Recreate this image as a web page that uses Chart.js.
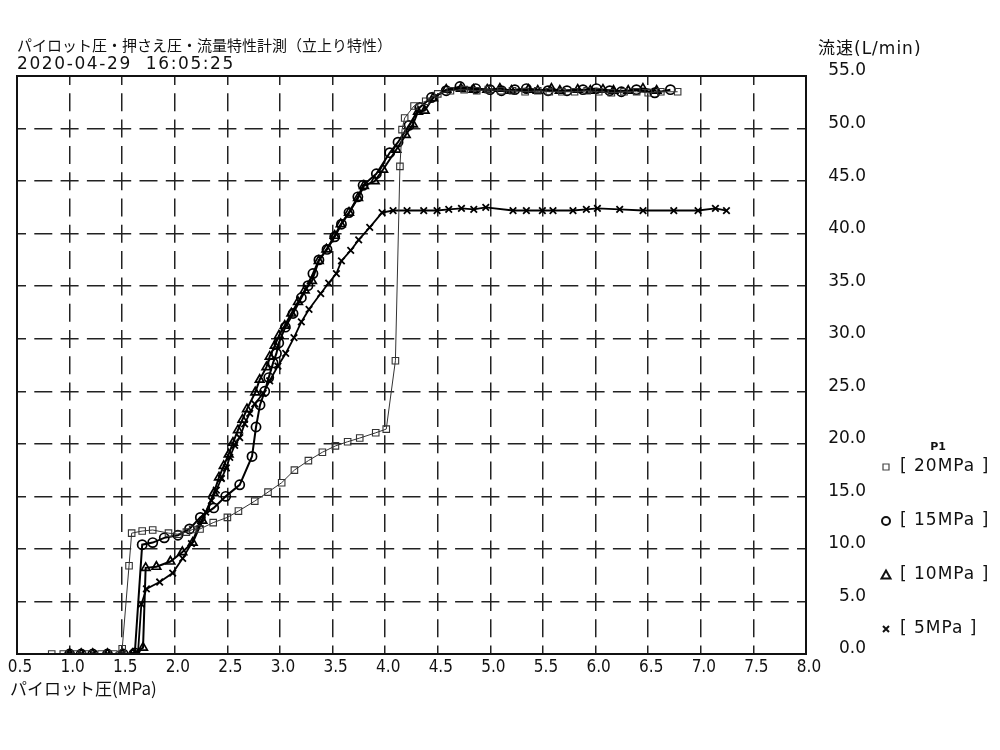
<!DOCTYPE html>
<html><head><meta charset="utf-8">
<script src="https://cdn.jsdelivr.net/npm/chart.js@4.4.1/dist/chart.umd.min.js"></script>
<style>
html,body{margin:0;padding:0;background:#fff;}
#wrap{position:relative;width:1000px;height:750px;overflow:hidden;}
canvas{position:absolute;left:0;top:0;}
.t{position:absolute;white-space:nowrap;color:#111;line-height:1;}
</style></head><body>
<div id="wrap">
<canvas id="c" width="1000" height="750"></canvas>
<div class="t" style="left:17px;top:37px;font-size:15px;font-family:'Noto Sans CJK JP';">パイロット圧・押さえ圧・流量特性計測（立上り特性）</div>
<div class="t" style="left:17px;top:55px;font-size:17px;font-family:'DejaVu Sans';letter-spacing:1.6px;">2020-04-29&nbsp;&nbsp;16:05:25</div>
<div class="t" style="left:818px;top:40px;font-size:17px;font-family:'DejaVu Sans','Noto Sans CJK JP';letter-spacing:1px;">流速(L/min)</div>
<div class="t" style="left:10px;top:679px;font-size:17px;font-family:'Noto Sans CJK JP';">パイロット圧(MPa)</div>
</div>
<script>
// ---- data ----
const xTickStep = 0.5, xMin = 0.5, xMax = 8.0;
const yTickStep = 5, yMin = 0, yMax = 55;
const seriesLabels = ['20MPa', '15MPa', '10MPa', '5MPa'];
const legendTitle = 'P1';

const p20X = [0.83,0.94,1.06,1.18,1.30,1.42,1.50,1.565,1.59,1.69,1.79,1.94,2.03,2.11,2.17,2.24,2.365,2.50,2.605,2.76,2.886,3.016,3.137,3.27,3.403,3.527,3.643,3.758,3.91,4.01,4.097,4.14,4.16,4.185,4.274,4.385,4.50,4.62,4.75,4.87,4.98,5.10,5.21,5.33,5.45,5.56,5.68,5.80,5.92,6.03,6.15,6.27,6.39,6.50,6.62,6.78];
const p20Y = [0,0,0,0,0,0,0.5,8.4,11.5,11.7,11.8,11.5,11.4,11.6,11.85,11.9,12.5,13.0,13.6,14.55,15.4,16.3,17.5,18.4,19.2,19.8,20.2,20.55,21.05,21.4,27.9,46.4,49.9,51.0,52.15,52.6,53.3,53.6,53.7,53.6,53.7,53.6,53.6,53.5,53.6,53.5,53.5,53.5,53.6,53.5,53.4,53.5,53.5,53.4,53.5,53.5];

const p15X = [1.0,1.11,1.22,1.36,1.51,1.62,1.69,1.79,1.90,2.03,2.14,2.243,2.37,2.484,2.617,2.734,2.772,2.81,2.855,2.893,2.934,2.966,2.988,3.051,3.124,3.203,3.266,3.313,3.37,3.447,3.52,3.584,3.656,3.74,3.79,3.916,4.043,4.122,4.226,4.328,4.44,4.58,4.71,4.86,4.996,5.105,5.232,5.342,5.548,5.728,5.88,6.008,6.134,6.245,6.388,6.562,6.711];
const p15Y = [0,0,0,0,0,0.1,10.4,10.6,11.05,11.3,11.9,13.0,13.9,15.0,16.1,18.8,21.6,23.7,25.0,26.3,27.7,28.6,29.6,31.1,32.4,33.9,35.05,36.2,37.5,38.5,39.7,40.9,42.0,43.5,44.6,45.7,47.7,48.7,50.3,52.0,52.95,53.6,54.0,53.8,53.7,53.6,53.7,53.8,53.6,53.6,53.7,53.8,53.6,53.5,53.7,53.4,53.7];

const p10X = [1.0,1.11,1.22,1.36,1.50,1.60,1.698,1.723,1.825,1.958,2.072,2.17,2.262,2.37,2.42,2.465,2.512,2.553,2.60,2.643,2.686,2.765,2.807,2.871,2.902,2.95,2.99,3.045,3.108,3.171,3.235,3.304,3.368,3.441,3.52,3.577,3.656,3.742,3.798,3.90,3.98,4.106,4.195,4.264,4.312,4.375,4.455,4.58,4.72,4.84,4.97,5.09,5.20,5.36,5.45,5.58,5.66,5.83,5.95,6.07,6.17,6.31,6.45,6.58];
const p10Y = [0,0,0,0,0,0,0.6,8.2,8.3,8.8,9.7,10.6,12.7,15.3,16.8,17.9,19.0,20.1,21.3,22.3,23.3,24.9,26.1,27.3,28.3,29.35,30.3,31.25,32.4,33.5,34.6,35.5,37.4,38.5,39.8,40.9,42.0,43.4,44.55,45.0,46.1,48.0,49.4,50.4,51.6,51.7,52.9,53.7,53.8,53.7,53.7,53.8,53.6,53.7,53.6,53.8,53.6,53.7,53.6,53.7,53.6,53.6,53.8,53.6];

const p5X = [1.0,1.11,1.22,1.36,1.50,1.60,1.65,1.682,1.73,1.856,1.98,2.075,2.158,2.237,2.294,2.348,2.395,2.443,2.49,2.522,2.569,2.617,2.664,2.712,2.76,2.84,2.902,2.98,3.054,3.133,3.203,3.276,3.387,3.463,3.536,3.584,3.672,3.748,3.853,3.97,4.075,4.208,4.366,4.493,4.604,4.725,4.842,4.956,5.215,5.342,5.494,5.595,5.785,5.912,6.017,6.229,6.451,6.743,6.974,7.139,7.244];
const p5Y = [0,0,0,0,0,0,0.1,4.75,6.2,6.85,7.7,9.1,10.5,12.4,13.5,14.6,15.6,16.7,17.7,18.7,19.85,20.6,21.9,22.9,23.8,24.8,26.0,27.4,28.6,30.1,31.6,32.8,34.3,35.3,36.2,37.4,38.4,39.4,40.6,42.0,42.2,42.2,42.2,42.2,42.3,42.4,42.3,42.5,42.2,42.2,42.2,42.2,42.2,42.3,42.4,42.3,42.2,42.2,42.2,42.4,42.2];

const pts = (xs, ys) => xs.map((x, i) => ({x, y: ys[i]}));

const styles = [
  {pointStyle:'rect', pointRadius:4.6, pointBorderWidth:1.1, borderWidth:1, color:'#333'},
  {pointStyle:'circle', pointRadius:4.6, pointBorderWidth:1.7, borderWidth:2, color:'#000'},
  {pointStyle:'triangle', pointRadius:5, pointBorderWidth:1.7, borderWidth:2, color:'#000'},
  {pointStyle:'crossRot', pointRadius:4.6, pointBorderWidth:1.8, borderWidth:1.8, color:'#000'}
];
const seriesData = [pts(p20X,p20Y), pts(p15X,p15Y), pts(p10X,p10Y), pts(p5X,p5Y)];

const datasets = seriesData.map((d, i) => ({
  label: seriesLabels[i],
  data: d,
  showLine: true,
  tension: 0,
  borderColor: styles[i].color,
  borderWidth: styles[i].borderWidth,
  pointStyle: styles[i].pointStyle,
  pointRadius: styles[i].pointRadius,
  pointBorderWidth: styles[i].pointBorderWidth,
  pointBorderColor: styles[i].color,
  pointBackgroundColor: 'rgba(0,0,0,0)'
}));

const frameLegendPlugin = {
  id: 'frameLegend',
  afterDraw(chart) {
    const ctx = chart.ctx, a = chart.chartArea;
    ctx.save();
    ctx.strokeStyle = '#111';
    ctx.lineWidth = 2;
    ctx.setLineDash([]);
    ctx.strokeRect(a.left, a.top, a.right - a.left, a.bottom - a.top);
    // legend
    ctx.fillStyle = '#111';
    ctx.textAlign = 'center';
    ctx.textBaseline = 'middle';
    ctx.font = 'bold 11px "DejaVu Sans"';
    ctx.fillText(legendTitle, 938, 447);
    const ys = [467, 521, 575, 629];
    const mx = 886;
    ctx.textAlign = 'left';
    ctx.font = '17px "DejaVu Sans"';
    try { ctx.letterSpacing = '1px'; } catch(e) {}
    seriesLabels.forEach((lab, i) => {
      const y = ys[i];
      ctx.strokeStyle = '#111';
      ctx.beginPath();
      if (i === 0) { ctx.lineWidth = 1.2; ctx.strokeStyle = '#444'; ctx.rect(mx - 3, y - 3, 6, 6); }
      else if (i === 1) { ctx.lineWidth = 2; ctx.arc(mx, y, 4, 0, Math.PI * 2); }
      else if (i === 2) { ctx.lineWidth = 2; ctx.moveTo(mx, y - 4.5); ctx.lineTo(mx + 4.5, y + 3.5); ctx.lineTo(mx - 4.5, y + 3.5); ctx.closePath(); }
      else { ctx.lineWidth = 2; ctx.moveTo(mx - 3, y - 3); ctx.lineTo(mx + 3, y + 3); ctx.moveTo(mx + 3, y - 3); ctx.lineTo(mx - 3, y + 3); }
      ctx.stroke();
      ctx.fillText('[ ' + lab + ' ]', 900, y);
    });
    ctx.restore();
  }
};

new Chart(document.getElementById('c'), {
  type: 'scatter',
  data: { datasets },
  options: {
    responsive: false,
    animation: false,
    devicePixelRatio: 1,
    layout: { padding: { left: 17, top: 76, right: 134, bottom: 66 } },
    plugins: { legend: { display: false }, tooltip: { enabled: false } },
    scales: {
      x: {
        type: 'linear', position: 'bottom', min: xMin, max: xMax,
        afterFit: s => { s.height = 30; },
        ticks: { stepSize: xTickStep, padding: 3, labelOffset: 3, color: '#111',
          font: { family: '"Liberation Sans Narrow","DejaVu Sans Condensed","Roboto Condensed",sans-serif', size: 17 },
          callback: v => v.toFixed(1), maxRotation: 0, autoSkip: false },
        grid: { color: '#222', lineWidth: 1.5, drawTicks: false },
        border: { display: false, dash: [18, 8.3], dashOffset: 9 }
      },
      y: {
        type: 'linear', position: 'right', min: yMin, max: yMax,
        afterFit: s => { s.width = 60; },
        ticks: { stepSize: yTickStep, padding: 13, labelOffset: -5, crossAlign: 'far', color: '#111',
          font: { family: '"DejaVu Sans",sans-serif', size: 17 },
          callback: v => v.toFixed(1), autoSkip: false },
        grid: { color: '#222', lineWidth: 1.5, drawTicks: false },
        border: { display: false, dash: [18, 8.3], dashOffset: 9 }
      }
    }
  },
  plugins: [frameLegendPlugin]
});
</script>
</body></html>
